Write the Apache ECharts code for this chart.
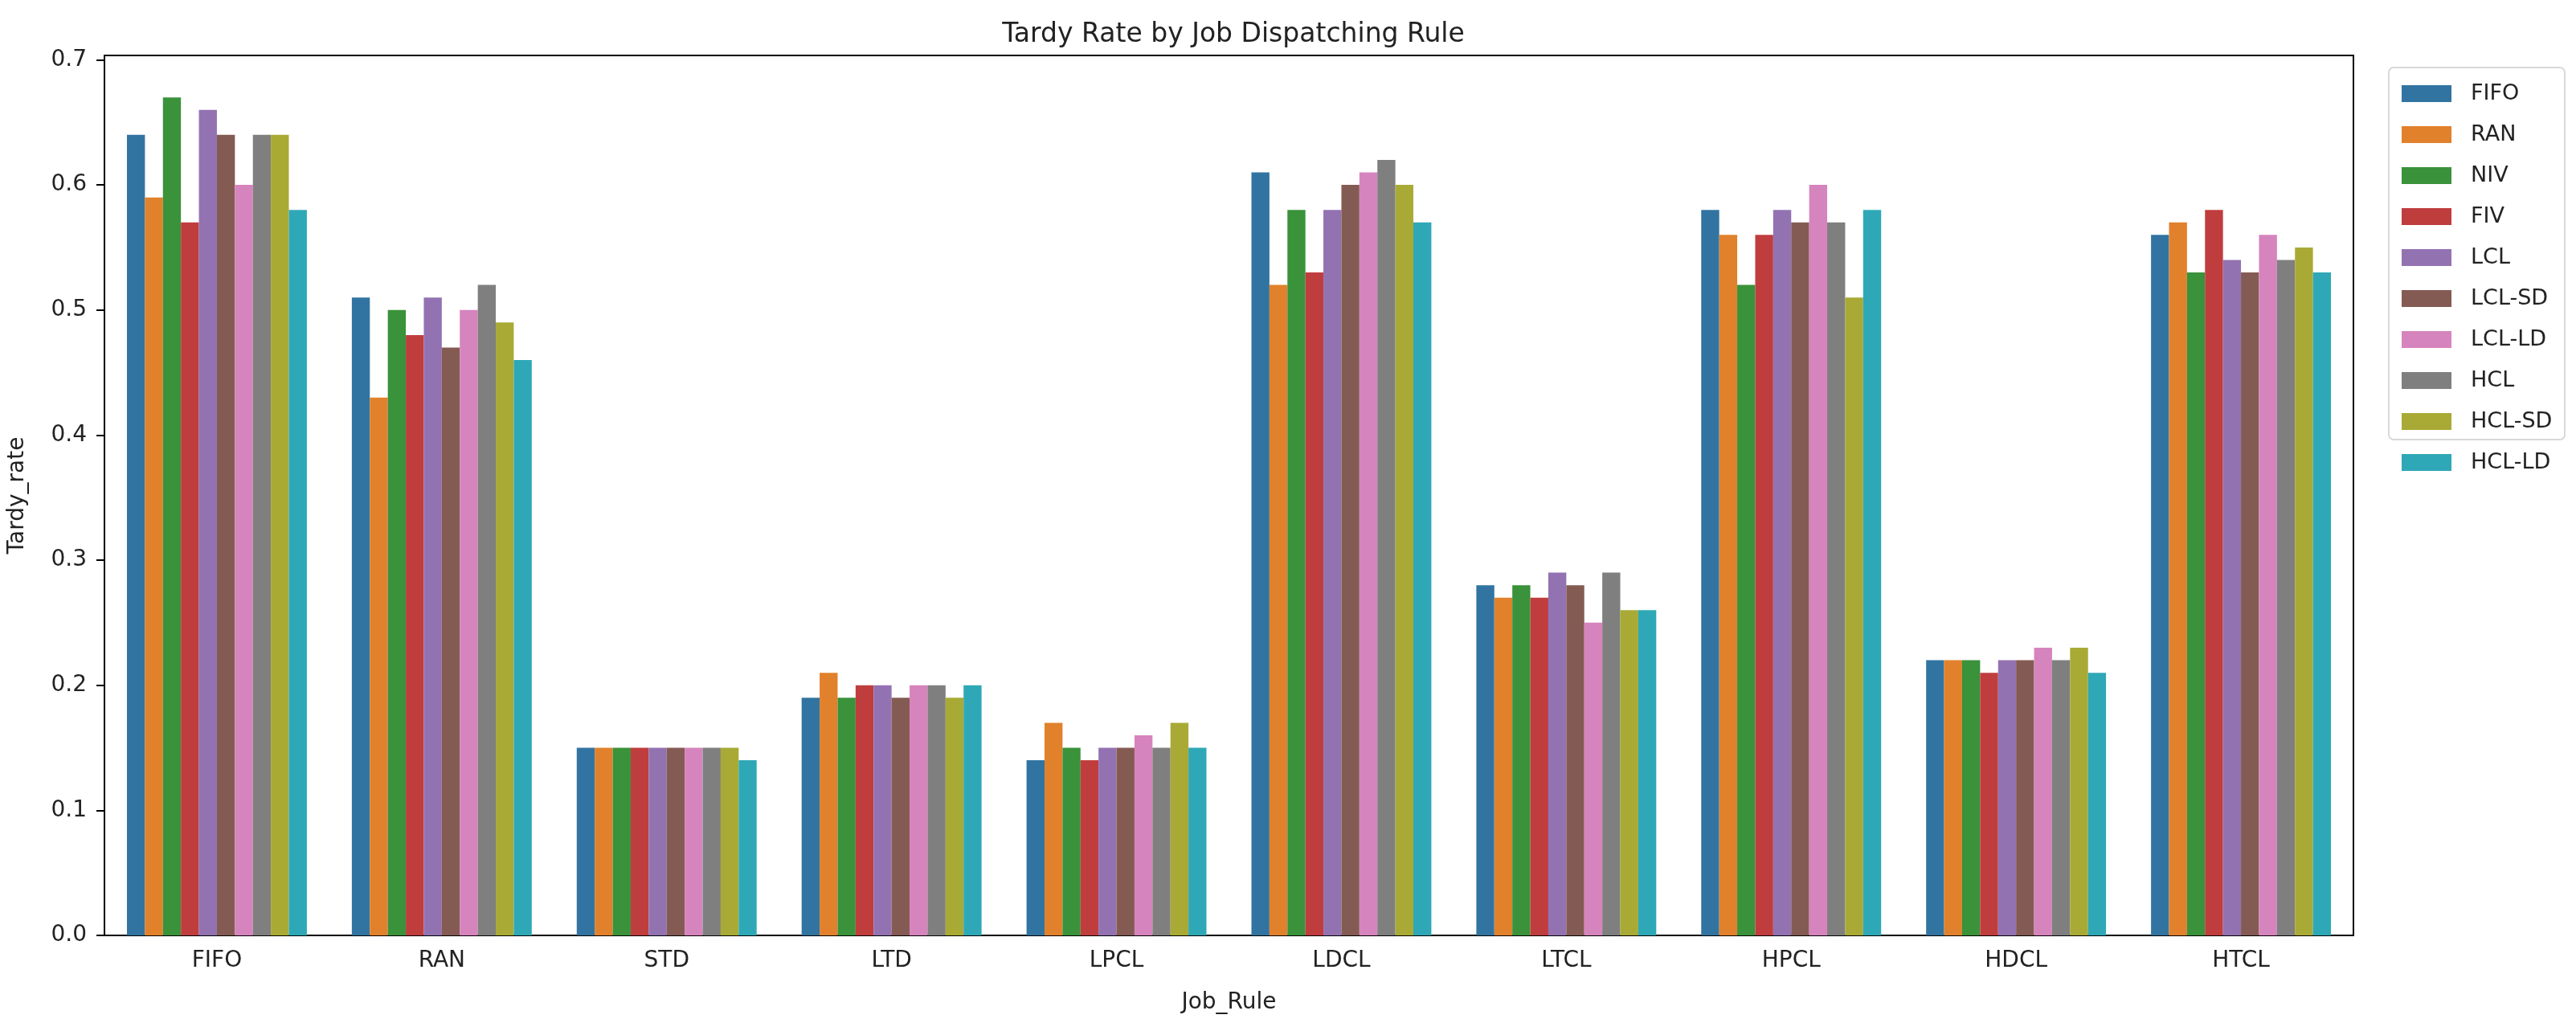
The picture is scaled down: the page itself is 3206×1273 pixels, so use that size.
<!DOCTYPE html>
<html><head><meta charset="utf-8">
<script src="https://cdn.jsdelivr.net/npm/echarts@6/dist/echarts.min.js"></script>
<style>html,body{margin:0;padding:0;background:#fff}#c{width:3206px;height:1273px}</style>
</head><body><div id="c"></div>
<script>
const categories = ["FIFO","RAN","STD","LTD","LPCL","LDCL","LTCL","HPCL","HDCL","HTCL"];
const seriesNames = ["FIFO","RAN","NIV","FIV","LCL","LCL-SD","LCL-LD","HCL","HCL-SD","HCL-LD"];
const FIFO   = [0.64,0.51,0.15,0.19,0.14,0.61,0.28,0.58,0.22,0.56];
const RAN    = [0.59,0.43,0.15,0.21,0.17,0.52,0.27,0.56,0.22,0.57];
const NIV    = [0.67,0.50,0.15,0.19,0.15,0.58,0.28,0.52,0.22,0.53];
const FIV    = [0.57,0.48,0.15,0.20,0.14,0.53,0.27,0.56,0.21,0.58];
const LCL    = [0.66,0.51,0.15,0.20,0.15,0.58,0.29,0.58,0.22,0.54];
const LCL_SD = [0.64,0.47,0.15,0.19,0.15,0.60,0.28,0.57,0.22,0.53];
const LCL_LD = [0.60,0.50,0.15,0.20,0.16,0.61,0.25,0.60,0.23,0.56];
const HCL    = [0.64,0.52,0.15,0.20,0.15,0.62,0.29,0.57,0.22,0.54];
const HCL_SD = [0.64,0.49,0.15,0.19,0.17,0.60,0.26,0.51,0.23,0.55];
const HCL_LD = [0.58,0.46,0.14,0.20,0.15,0.57,0.26,0.58,0.21,0.53];
const yTicks = [0.0,0.1,0.2,0.3,0.4,0.5,0.6,0.7];
const colors = ["#3274a1","#e1812c","#3a923a","#c03d3e","#9372b2","#845b53","#d684bd","#7f7f7f","#a9aa35","#2ea8b6"];

const seriesData = [FIFO,RAN,NIV,FIV,LCL,LCL_SD,LCL_LD,HCL,HCL_SD,HCL_LD];
const FONT = "DejaVu Sans";
const chart = echarts.init(document.getElementById('c'), null, {renderer:'canvas'});
chart.setOption({
  backgroundColor:'#fff',
  animation:false,
  color: colors,
  title:{text:'Tardy Rate by Job Dispatching Rule', left:1530, textAlign:'center', top:22,
    textStyle:{fontFamily:FONT, fontSize:33, fontWeight:'normal', color:'#222'}},
  grid:{left:130, right:277, top:69, bottom:109, show:true, borderColor:'#000', borderWidth:2,
    backgroundColor:'transparent', outerBoundsMode:'none', containLabel:false},
  legend:{orient:'vertical', left:2984, top:98, itemWidth:62, itemHeight:21, itemGap:24,
    icon:'rect', data:seriesNames,
    textStyle:{fontFamily:FONT, fontSize:27, color:'#222', padding:[0,0,0,19], lineHeight:21}},
  graphic:[{type:'rect', shape:{x:2973, y:84, width:219, height:463, r:6},
    style:{fill:'rgba(255,255,255,0.8)', stroke:'#d9d9d9', lineWidth:2}, z:-1}],
  xAxis:{type:'category', data:categories,
    name:'Job_Rule', nameLocation:'middle', nameGap:70,
    nameTextStyle:{fontFamily:FONT, fontSize:28, color:'#222'},
    axisLine:{lineStyle:{color:'#000', width:2}},
    axisTick:{alignWithLabel:true, length:10, lineStyle:{color:'#000', width:2}},
    axisLabel:{fontFamily:FONT, fontSize:28, color:'#222', margin:18}},
  yAxis:{type:'value', min:0, max:0.7035, interval:0.1,
    name:'Tardy_rate', nameLocation:'middle', nameGap:94,
    nameTextStyle:{fontFamily:FONT, fontSize:28, color:'#222'},
    splitLine:{show:false},
    axisLine:{show:true, lineStyle:{color:'#000', width:2}},
    axisTick:{show:true, length:10, customValues:yTicks, lineStyle:{color:'#000', width:2}},
    axisLabel:{fontFamily:FONT, fontSize:28, color:'#222', margin:22, customValues:yTicks,
      formatter:v=>v.toFixed(1)}},
  series: seriesNames.map((n,i)=>({name:n, type:'bar', data:seriesData[i],
    barGap:'0%', barCategoryGap:'20%', itemStyle:{color:colors[i]}}))
});
</script></body></html>
